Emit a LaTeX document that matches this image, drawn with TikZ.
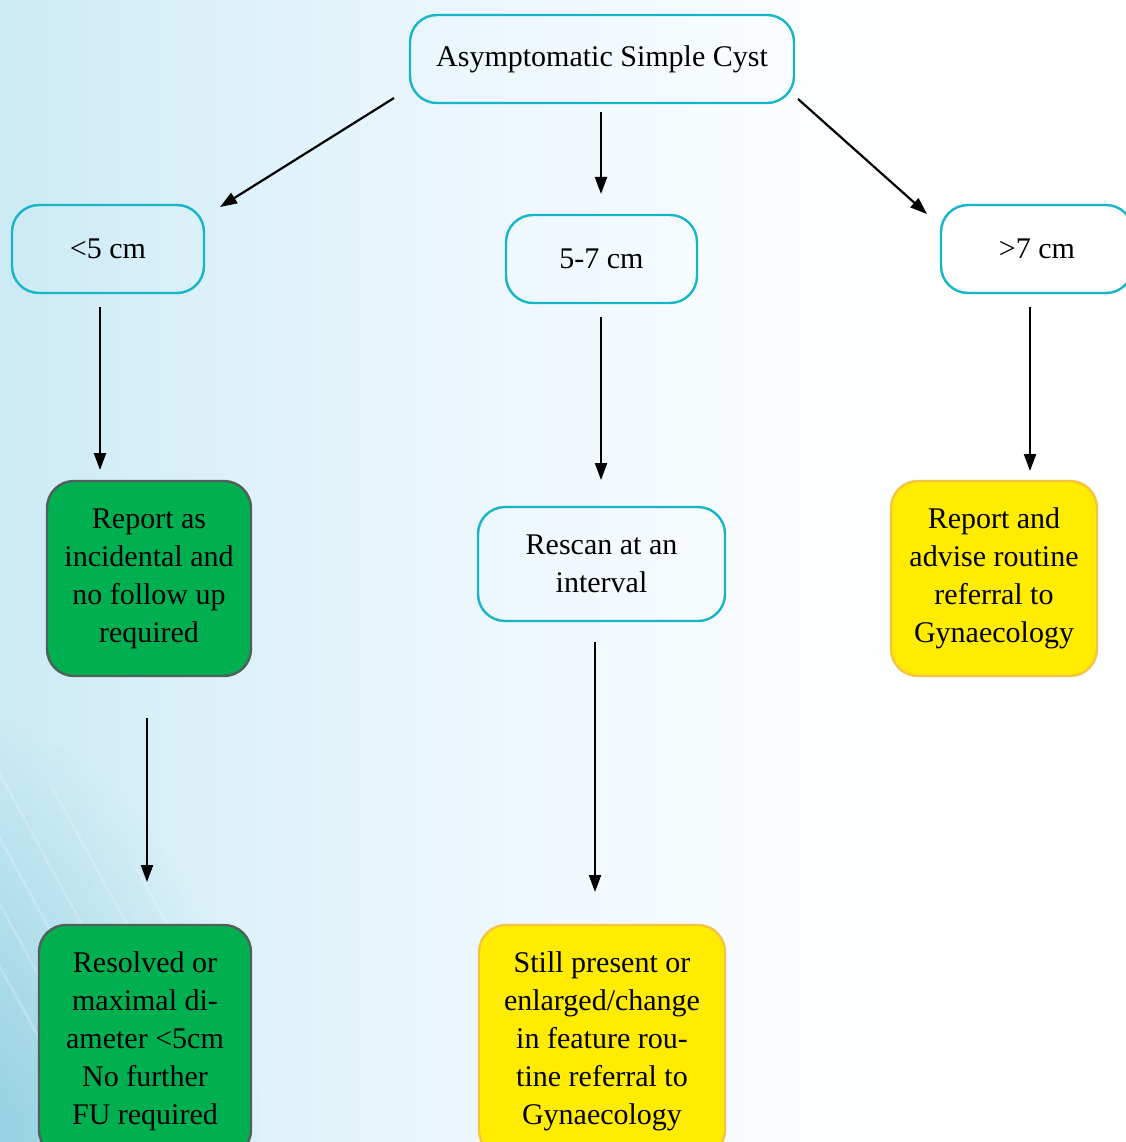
\documentclass[tikz,border=0pt]{standalone}
\usepackage{fontspec}
\setmainfont{Liberation Serif}
\usetikzlibrary{arrows.meta,fadings}
\definecolor{cyanline}{RGB}{22,182,200}
\definecolor{greenfill}{RGB}{0,176,80}
\definecolor{greenline}{RGB}{80,96,90}
\definecolor{yellowfill}{RGB}{255,236,0}
\definecolor{yellowline}{RGB}{246,196,66}
\definecolor{cornerblue}{RGB}{120,196,216}
\pgfdeclarehorizontalshading{bgshade}{100bp}{rgb(0bp)=(0.80,0.92,0.96); rgb(25bp)=(0.80,0.92,0.96); rgb(36bp)=(0.87,0.95,0.98); rgb(47bp)=(0.93,0.97,0.99); rgb(58bp)=(0.975,0.99,1); rgb(66bp)=(1,1,1); rgb(100bp)=(1,1,1)}
\tikzfading[name=cornerfade, inner color=transparent!0, outer color=transparent!100]
\tikzset{
  base/.style={rounded corners=27pt, line width=2.4pt, align=center, inner sep=0pt,
    font=\fontsize{30}{38}\selectfont},
  cyanbox/.style={base, draw=cyanline},
  greenbox/.style={base, draw=greenline, fill=greenfill},
  yellowbox/.style={base, draw=yellowline, fill=yellowfill},
  arr/.style={line width=2.2pt, -{Triangle[length=17pt,width=12pt]}},
}
\begin{document}
\begin{tikzpicture}[x=1pt,y=-1pt]
\useasboundingbox (0,0) rectangle (1125,1142);
% background
\shade[shading=bgshade] (0,0) rectangle (1125,1142);
\begin{scope}
\clip (0,0) rectangle (1125,1142);
\fill[cornerblue, path fading=cornerfade, fit fading=true, opacity=0.85] (-60,1230) ellipse (330 and 520);
\end{scope}
\begin{scope}
\clip (-60,1230) ellipse (300 and 480);
\foreach \s in {0,34,70,105,150,190,240}{
  \draw[white, opacity=0.22, line width=2.5pt] (-200+\s,600) -- (100+\s,1150);
}
\end{scope}
% nodes
\node[cyanbox, minimum width=384pt, minimum height=88pt] (top) at (602,59) {Asymptomatic Simple Cyst};
\node[cyanbox, minimum width=192pt, minimum height=88pt] (lt5) at (108,249) {<5 cm};
\node[cyanbox, minimum width=191pt, minimum height=88pt] (mid) at (601.5,259) {5-7 cm};
\node[cyanbox, minimum width=192pt, minimum height=88pt] (gt7) at (1037,249) {>7 cm};
\node[greenbox, minimum width=204pt, minimum height=195pt] (green1) at (149,578.5) {Report as\\incidental and\\no follow up\\required};
\node[cyanbox, minimum width=247pt, minimum height=114pt] (rescan) at (601.5,564) {Rescan at an\\interval};
\node[yellowbox, minimum width=206pt, minimum height=195pt] (yellow1) at (994,578.5) {Report and\\advise routine\\referral to\\Gynaecology};
\node[greenbox, minimum width=212pt, minimum height=232pt] (green2) at (145,1041) {Resolved or\\maximal di-\\ameter <5cm\\No further\\FU required};
\node[yellowbox, minimum width=246pt, minimum height=232pt] (yellow2) at (602,1041) {Still present or\\enlarged/change\\in feature rou-\\tine referral to\\Gynaecology};
% connector end points
\coordinate (a1s) at (394,98);   \coordinate (a1e) at (220,207);
\coordinate (a2s) at (601,112);  \coordinate (a2e) at (601,194);
\coordinate (a3s) at (798,99);   \coordinate (a3e) at (927,214);
\coordinate (a4s) at (100,307);  \coordinate (a4e) at (100,470);
\coordinate (a5s) at (601,317);  \coordinate (a5e) at (601,480);
\coordinate (a6s) at (1030,307); \coordinate (a6e) at (1030,471);
\coordinate (a7s) at (147,718);  \coordinate (a7e) at (147,882);
\coordinate (a8s) at (595,642);  \coordinate (a8e) at (595,892);
\draw[arr] (a1s) -- (a1e);
\draw[arr] (a2s) -- (a2e);
\draw[arr] (a3s) -- (a3e);
\draw[arr] (a4s) -- (a4e);
\draw[arr] (a5s) -- (a5e);
\draw[arr] (a6s) -- (a6e);
\draw[arr] (a7s) -- (a7e);
\draw[arr] (a8s) -- (a8e);
\end{tikzpicture}
\end{document}
